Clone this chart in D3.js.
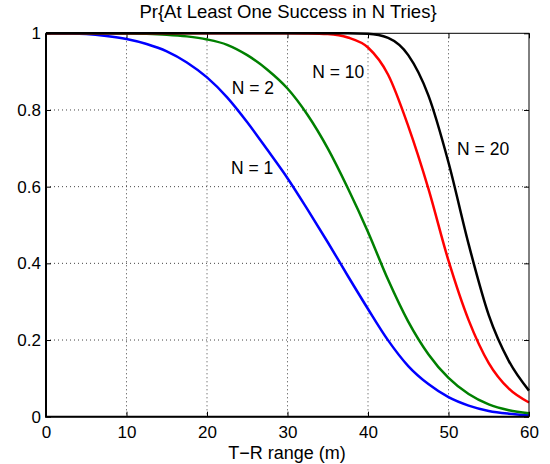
<!DOCTYPE html>
<html>
<head>
<meta charset="utf-8">
<script src="https://cdnjs.cloudflare.com/ajax/libs/d3/7.8.5/d3.min.js"></script>
<style>
  body { margin: 0; background: #fff; }
  text { font-family: "Liberation Sans", Arial, Helvetica, sans-serif; fill: #000; }
</style>
</head>
<body>
<div id="chart"></div>
<script>
"use strict";

// distances (m) where the curves were read
var range = [0, 2.5, 5, 7.5, 10, 12.5, 15, 17.5, 20, 22.5, 25, 27.5, 30,
             32.5, 35, 37.5, 40, 42.5, 45, 47.5, 50, 52.5, 55, 57.5, 60];

var probN1 = [1.000, 0.9995, 0.998, 0.993, 0.985, 0.972, 0.953, 0.924, 0.885, 0.833, 0.768, 0.696, 0.622,
              0.540, 0.455, 0.367, 0.281, 0.199, 0.132, 0.085, 0.051, 0.029, 0.015, 0.0078, 0.0037];
var probN2 = [1.000, 1.000, 1.000, 0.9999, 0.9996, 0.9988, 0.9965, 0.992, 0.984, 0.970, 0.943, 0.905, 0.856,
              0.787, 0.700, 0.596, 0.482, 0.357, 0.248, 0.163, 0.101, 0.059, 0.032, 0.017, 0.009];
var probN10 = [1.000, 1.000, 1.000, 1.000, 1.000, 1.000, 1.000, 1.000, 1.000, 1.000, 1.000, 1.000, 1.000,
               0.9996, 0.998, 0.989, 0.963, 0.892, 0.758, 0.595, 0.407, 0.252, 0.140, 0.073, 0.037];
var probN20 = [1.000, 1.000, 1.000, 1.000, 1.000, 1.000, 1.000, 1.000, 1.000, 1.000, 1.000, 1.000, 1.000,
               1.000, 1.000, 1.000, 0.999, 0.988, 0.943, 0.838, 0.663, 0.450, 0.265, 0.145, 0.068];

var seriesNames = ["N = 1", "N = 2", "N = 10", "N = 20"];
var seriesColors = ["#0000ff", "#008000", "#ff0000", "#000000"];

var xTicks = [0, 10, 20, 30, 40, 50, 60];
var yTicks = [0, 0.2, 0.4, 0.6, 0.8, 1];

// label positions (data coords) of the curve names
var labelX = [25.6, 25.7, 36.3, 54.3];
var labelY = [0.633, 0.842, 0.883, 0.683];

function drawChart()
{
	var larg = 550;
	var haut = 464;
	var gauche = 46, droite = 529, haute = 33.3, basse = 416.7;

	var svg = d3.select("#chart")
		.append("svg")
		.attr("width", larg)
		.attr("height", haut);

	var x = d3.scaleLinear().domain([0, 60]).range([gauche, droite]);
	var y = d3.scaleLinear().domain([0, 1]).range([basse, haute]);

	// grille pointillee
	svg.append("g")
		.selectAll("line")
		.data(xTicks.slice(1, -1))
		.enter()
		.append("line")
		.attr("x1", function(d){ return x(d); })
		.attr("x2", function(d){ return x(d); })
		.attr("y1", haute)
		.attr("y2", basse)
		.attr("stroke", "#444")
		.attr("stroke-width", 1)
		.attr("stroke-dasharray", "1,3");

	svg.append("g")
		.selectAll("line")
		.data(yTicks.slice(1, -1))
		.enter()
		.append("line")
		.attr("x1", gauche)
		.attr("x2", droite)
		.attr("y1", function(d){ return y(d); })
		.attr("y2", function(d){ return y(d); })
		.attr("stroke", "#444")
		.attr("stroke-width", 1)
		.attr("stroke-dasharray", "1,3");

	// axes (ticks inside, like matlab)
	var xAxis = d3.axisBottom(x).tickValues(xTicks).tickSize(-5).tickPadding(9).tickFormat(d3.format("d"));
	var yAxis = d3.axisLeft(y).tickValues(yTicks).tickSize(-5).tickPadding(5)
		.tickFormat(function(d){ return d === 0 || d === 1 ? d3.format("d")(d) : d3.format(".1f")(d); });

	var gx = svg.append("g").attr("transform", "translate(0," + basse + ")").call(xAxis);
	var gy = svg.append("g").attr("transform", "translate(" + gauche + ",0)").call(yAxis);
	var gx2 = svg.append("g").attr("transform", "translate(0," + haute + ")")
		.call(d3.axisTop(x).tickValues(xTicks).tickSize(-5).tickFormat(""));
	var gy2 = svg.append("g").attr("transform", "translate(" + droite + ",0)")
		.call(d3.axisRight(y).tickValues(yTicks).tickSize(-5).tickFormat(""));

	[gx, gy, gx2, gy2].forEach(function(g){
		g.select(".domain").remove();
		g.selectAll(".tick line").attr("stroke", "#000");
		g.selectAll("text").attr("font-size", "17px").attr("font-family", "Liberation Sans, Arial, sans-serif").attr("fill", "#000");
	});

	// courbes
	var dataSeries = [probN1, probN2, probN10, probN20];
	var line = d3.line()
		.x(function(d, i){ return x(range[i]); })
		.y(function(d){ return y(d); })
		.curve(d3.curveMonotoneX);

	svg.append("g")
		.selectAll("path")
		.data(dataSeries)
		.enter()
		.append("path")
		.attr("d", line)
		.attr("fill", "none")
		.attr("stroke", function(d, i){ return seriesColors[i]; })
		.attr("stroke-width", 2.5)
		.attr("stroke-linejoin", "round");

	// cadre
	svg.append("rect")
		.attr("x", gauche)
		.attr("y", haute)
		.attr("width", droite - gauche)
		.attr("height", basse - haute)
		.attr("fill", "none")
		.attr("stroke", "#000")
		.attr("stroke-width", 1);
	svg.append("path")
		.attr("d", "M" + gauche + "," + haute + "V" + basse + "H" + droite)
		.attr("fill", "none")
		.attr("stroke", "#000")
		.attr("stroke-width", 2);

	// noms des courbes
	svg.append("g")
		.selectAll("text")
		.data(seriesNames)
		.enter()
		.append("text")
		.text(function(d){ return d; })
		.attr("x", function(d, i){ return x(labelX[i]); })
		.attr("y", function(d, i){ return y(labelY[i]); })
		.attr("text-anchor", "middle")
		.attr("font-size", "17.5px");

	// titre et axe x
	svg.append("text")
		.text("Pr{At Least One Success in N Tries}")
		.attr("x", 288)
		.attr("y", 18)
		.attr("text-anchor", "middle")
		.attr("font-size", "18.5px");

	svg.append("text")
		.text("T\u2212R range (m)")
		.attr("x", 287)
		.attr("y", 459)
		.attr("text-anchor", "middle")
		.attr("font-size", "18px");
}

drawChart();
</script>
</body>
</html>
